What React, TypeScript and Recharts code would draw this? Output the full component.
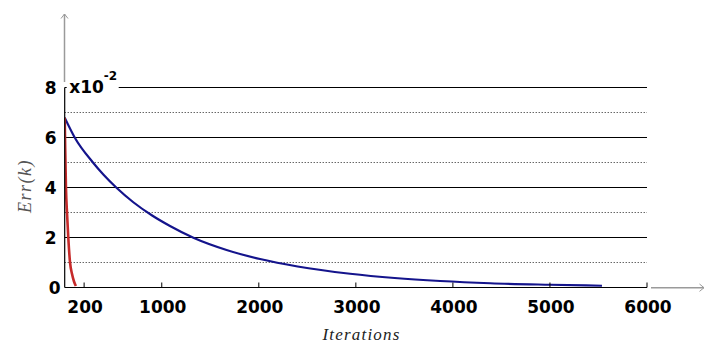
import React from 'react';
import {
  LineChart,
  Line,
  XAxis,
  YAxis,
  ReferenceLine,
  Label,
} from 'recharts';

// values (error scaled by 1e-2)
const BLUE_ITER = [0, 103, 291, 398, 531, 707, 897, 1085, 1326, 1668, 2013, 2400, 2941, 3400, 3869, 4385, 5003, 5536];
const BLUE_ERR = [6.79, 6.0, 5.0, 4.52, 4.0, 3.41, 2.89, 2.46, 1.99, 1.5, 1.14, 0.84, 0.55, 0.38, 0.26, 0.17, 0.11, 0.07];

const RED_ITER = [0, 5, 13, 25, 37, 55, 75, 95, 115];
const RED_ERR = [6.79, 5.6, 4.0, 2.9, 2.0, 1.0, 0.55, 0.25, 0.06];

const X_TICKS = [200, 1000, 2000, 3000, 4000, 5000, 6000];
const Y_TICKS = [0, 2, 4, 6, 8];
const GRID_MAJOR = [2, 4, 6, 8];
const GRID_MINOR = [1, 3, 5, 7];

const blueData = BLUE_ITER.map((x, i) => ({ x, err: BLUE_ERR[i] }));
const redData = RED_ITER.map((x, i) => ({ x, err: RED_ERR[i] }));

const TICK_FONT = '"DejaVu Sans", Verdana, sans-serif';
const TITLE_FONT = '"Liberation Serif", "DejaVu Serif", serif';

function XTick({ x, y, payload }: any) {
  return (
    <g>
      <line x1={x} y1={y} x2={x} y2={y - 5} stroke="#000" strokeWidth={1} />
      <text x={x + 1} y={y + 25} textAnchor="middle" fontFamily={TICK_FONT} fontWeight="bold" fontSize={17} fill="#000">
        {payload.value}
      </text>
    </g>
  );
}

function YTick({ x, y, payload }: any) {
  const shift = payload.value === 0 ? 4 : 0;
  return (
    <text x={x + shift} y={y + 6} textAnchor="end" fontFamily={TICK_FONT} fontWeight="bold" fontSize={17} fill="#000">
      {payload.value}
    </text>
  );
}

function ExponentLabel(props: any) {
  const vb = props.viewBox || {};
  const x0 = vb.x;
  const y0 = vb.y;
  return (
    <g>
      <rect x={x0 + 2} y={y0 - 22} width={52} height={28} fill="#fff" />
      <text x={x0 + 4.5} y={y0 + 5} fontFamily={TICK_FONT} fontWeight="bold" fontSize={17} fill="#000">
        x10
        <tspan dy={-13} fontSize={12}>-2</tspan>
      </text>
    </g>
  );
}

export default function App() {
  return (
    <div style={{ position: 'absolute', left: 0, top: 0, width: 716, height: 353, background: '#fff' }}>
      <LineChart
        width={716}
        height={353}
        margin={{ top: 87.5, right: 69, bottom: 25.5, left: 0 }}
      >
        <XAxis
          type="number"
          dataKey="x"
          domain={[0, 6000]}
          ticks={X_TICKS}
          allowDataOverflow
          height={40}
          tickSize={0}
          tickMargin={0}
          tickLine={false}
          axisLine={{ stroke: '#000', strokeWidth: 1.2 }}
          tick={<XTick />}
        />
        <YAxis
          type="number"
          domain={[0, 8]}
          ticks={Y_TICKS}
          width={64.7}
          tickSize={0}
          tickMargin={8}
          tickLine={false}
          axisLine={{ stroke: '#000', strokeWidth: 1.2 }}
          tick={<YTick />}
        />
        {GRID_MINOR.map((v) => (
          <ReferenceLine key={`m${v}`} y={v} stroke="#222" strokeWidth={1} strokeDasharray="1 2" />
        ))}
        {GRID_MAJOR.map((v) =>
          v === 8 ? (
            <ReferenceLine key={`g${v}`} y={v} stroke="#000" strokeWidth={1.2}>
              <Label content={<ExponentLabel />} />
            </ReferenceLine>
          ) : (
            <ReferenceLine key={`g${v}`} y={v} stroke="#000" strokeWidth={1.2} />
          )
        )}
        <Line
          data={blueData}
          dataKey="err"
          type="monotone"
          stroke="#14148c"
          strokeWidth={2.2}
          dot={false}
          isAnimationActive={false}
        />
        <Line
          data={redData}
          dataKey="err"
          type="monotone"
          stroke="#c62a2a"
          strokeWidth={2.6}
          dot={false}
          isAnimationActive={false}
        />
      </LineChart>
      <svg
        width={716}
        height={353}
        style={{ position: 'absolute', left: 0, top: 0, pointerEvents: 'none' }}
      >
        <line x1={64.5} y1={14} x2={64.5} y2={82} stroke="#9a9a9a" strokeWidth={1.5} />
        <polyline points="61,18.5 64.5,14 68,18.5" fill="none" stroke="#9a9a9a" strokeWidth={1} />
        <line x1={651} y1={287.7} x2={704} y2={287.7} stroke="#9a9a9a" strokeWidth={1.5} />
        <polyline points="699.5,284 704,287.7 699.5,291.4" fill="none" stroke="#9a9a9a" strokeWidth={1} />
        <text
          x={361.5}
          y={340}
          textAnchor="middle"
          fontFamily={TITLE_FONT}
          fontStyle="italic"
          fontSize={17}
          letterSpacing={1.2}
          fill="#222"
        >
          Iterations
        </text>
        <text
          x={31}
          y={186}
          textAnchor="middle"
          transform="rotate(-90 31 186)"
          fontFamily={TITLE_FONT}
          fontStyle="italic"
          fontSize={18}
          letterSpacing={1.5}
          fill="#555"
        >
          Err(k)
        </text>
      </svg>
    </div>
  );
}
